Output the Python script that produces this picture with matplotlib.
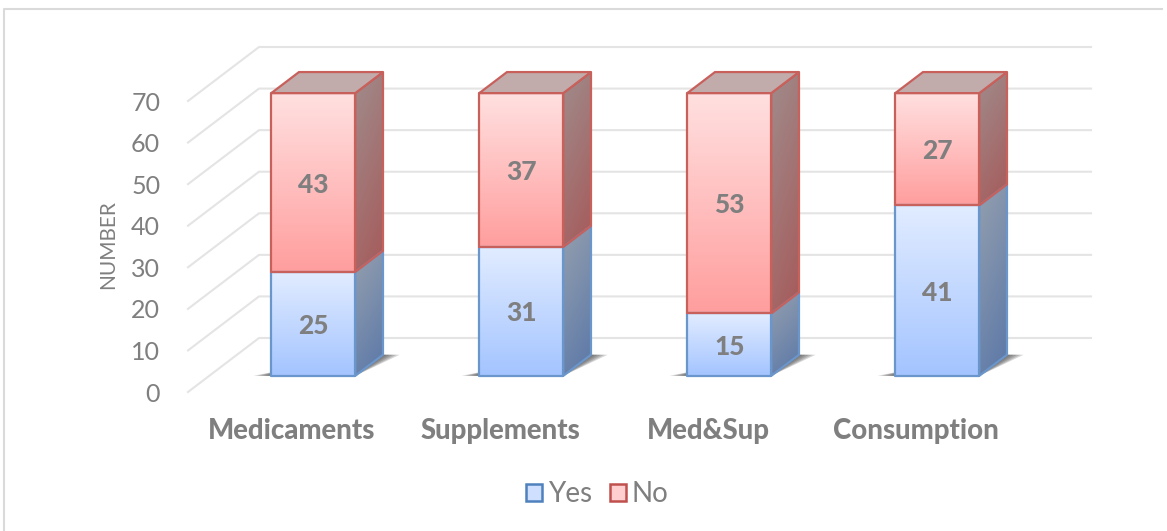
import numpy as np
import matplotlib
matplotlib.use("Agg")
import matplotlib.pyplot as plt
from matplotlib.patches import Polygon, Patch
from matplotlib.lines import Line2D
from matplotlib.colors import to_rgb

categories = ["Medicaments", "Supplements", "Med&Sup", "Consumption"]
yes_values = [25, 31, 15, 41]
no_values = [43, 37, 53, 27]
y_ticks = [0, 10, 20, 30, 40, 50, 60, 70]

plt.rcParams['font.family'] = ['Lato', 'DejaVu Sans']

W, H = 1167, 531
fig = plt.figure(figsize=(W/100, H/100), dpi=100)
fig.patch.set_facecolor('white')
ax = fig.add_axes([188/W, (H-392)/H, 832/W, 291/H])

# fake 3d: depth 0..1 shifts a point up and right
DX = 71/208
DY = 54/(291/70)
BAR_W = 84/208
D0, D1 = 0.30, 0.69
GRID = '#E4E4E4'
TXT = '#7F7F7F'

def pt(x, v, d):
    return (x + DX*d, v + DY*d)

def grad_poly(points, top, bottom, zorder, edge=None, diag=False):
    pts = np.array(points)
    n = 64
    t = np.linspace(0, 1, n)
    c0, c1 = np.array(to_rgb(top)), np.array(to_rgb(bottom))
    if diag:
        tt = np.clip((t[:, None] + t[None, :]*0.35)/1.35, 0, 1)
    else:
        tt = np.tile(t[:, None], (1, n))
    img = c0 + (c1-c0)*tt[..., None]
    im = ax.imshow(img, extent=(pts[:, 0].min(), pts[:, 0].max(), pts[:, 1].min(), pts[:, 1].max()),
                   aspect='auto', origin='upper', interpolation='bilinear', zorder=zorder)
    clip = Polygon(pts, transform=ax.transData, facecolor='none', edgecolor='none')
    ax.add_patch(clip)
    im.set_clip_path(clip)
    im.set_clip_box(fig.bbox)
    if edge:
        ax.add_patch(Polygon(pts, closed=True, facecolor='none', edgecolor=edge, lw=1.6,
                             joinstyle='round', zorder=zorder+0.1, clip_on=False))

def draw_segment(x, v0, v1, front, side, edge):
    l, r = x, x + BAR_W
    grad_poly([pt(r, v0, D0), pt(r, v0, D1), pt(r, v1, D1), pt(r, v1, D0)], side[0], side[1], 4, edge, diag=True)
    grad_poly([pt(l, v0, D0), pt(r, v0, D0), pt(r, v1, D0), pt(l, v1, D0)], front[0], front[1], 5, edge)

# gridlines: back wall and left wall
for v in y_ticks:
    ax.plot([0, DX, 4+DX], [v, v+DY, v+DY], color=GRID, lw=1.5, clip_on=False, zorder=1)

blue_front = ('#E1ECFF', '#A4C4FF')
blue_side = ('#949FAE', '#5B78A8')
red_front = ('#FFE0E0', '#FF9E9E')
red_side = ('#A08C8C', '#A65A5A')
blue_edge = '#6A96CC'
red_edge = '#C8605C'

for i, (name, y, n) in enumerate(zip(categories, yes_values, no_values)):
    x = i + 0.5 - BAR_W/2
    total = y + n
    # floor shadow, nested so it fades out
    for f in [1.0, 0.8, 0.6, 0.4, 0.2]:
        sh = [pt(x+BAR_W, 0, D0), pt(x+BAR_W+0.08*f, 0, D1), pt(x+BAR_W, 0, D1)]
        ax.add_patch(Polygon(sh, closed=True, facecolor='#444444', edgecolor='none', alpha=0.22, zorder=3, clip_on=False))
        sh2 = [pt(x-0.085*f, 0, D0), pt(x+0.02, 0, D0), pt(x+0.02, 0, D0+0.11)]
        ax.add_patch(Polygon(sh2, closed=True, facecolor='#444444', edgecolor='none', alpha=0.25, zorder=3, clip_on=False))
    draw_segment(x, 0, y, blue_front, blue_side, blue_edge)
    draw_segment(x, y, total, red_front, red_side, red_edge)
    # top face
    top = [pt(x, total, D0), pt(x+BAR_W, total, D0), pt(x+BAR_W, total, D1), pt(x, total, D1)]
    ax.add_patch(Polygon(top, closed=True, facecolor='#C2ABAB', edgecolor=red_edge, lw=1.6, zorder=6, clip_on=False))
    cx, _ = pt(x + BAR_W/2, 0, D0)
    cy = DY*D0 - 0.5
    ax.text(cx, cy + y/2, str(y), ha='center', va='center', fontsize=19, fontweight=900, color=TXT, zorder=8)
    ax.text(cx, cy + y + n/2, str(n), ha='center', va='center', fontsize=19, fontweight=900, color=TXT, zorder=8)

ax.set_xlim(0, 4)
ax.set_ylim(0, 70)
ax.set_yticks(y_ticks)
ax.set_yticklabels([str(v) for v in y_ticks], fontsize=18, color=TXT)
ax.set_xticks([i + 0.5 for i in range(4)])
ax.set_xticklabels(categories, fontsize=19.8, fontweight=900, color=TXT)
ax.tick_params(axis='y', length=0, pad=20)
ax.tick_params(axis='x', length=0, pad=19)
for s in ax.spines.values():
    s.set_visible(False)
ax.patch.set_visible(False)

fig.text(108/W, (H-245)/H, "NUMBER", rotation=90, ha='center', va='center', fontsize=15, color=TXT)

handles = [Patch(facecolor='#CFDFFF', edgecolor='#4F81BD', lw=1.8, label='Yes'),
           Patch(facecolor='#FFCFCF', edgecolor='#C0504D', lw=1.8, label='No')]
fig.legend(handles=handles, loc='center', bbox_to_anchor=(597/W, (H-494)/H), ncol=2, frameon=False,
           fontsize=20, labelcolor=TXT, handlelength=0.58, handleheight=0.58, handletextpad=0.2, columnspacing=0.65)

# chart frame, only top and left edges show
fig.add_artist(Line2D([4/W, 4/W, 1162/W], [0, (H-8.5)/H, (H-8.5)/H], transform=fig.transFigure,
                      color='#DADADA', lw=1.5))

fig.savefig("out.png", dpi=100)
